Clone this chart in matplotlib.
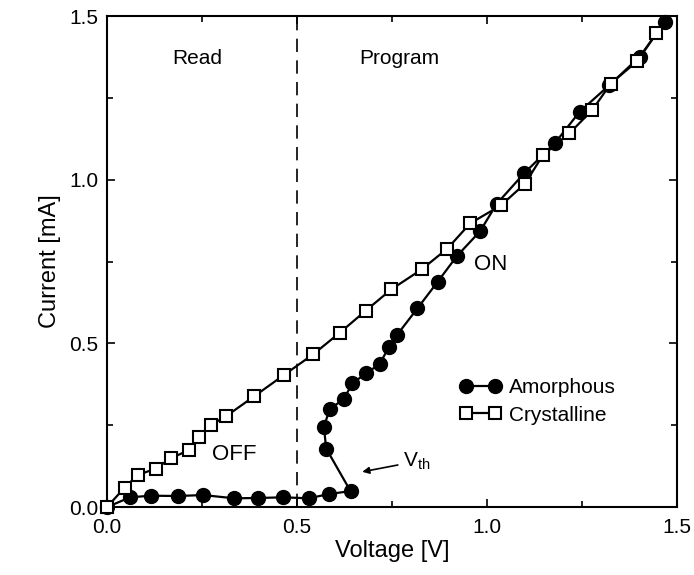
import matplotlib
matplotlib.use("Agg")
import matplotlib.pyplot as plt
from matplotlib.ticker import MultipleLocator

plt.rcParams['font.family'] = ['Liberation Sans', 'DejaVu Sans']
plt.rcParams['mathtext.default'] = 'regular'

# amorphous state (filled circles)
amor_v = [0.0, 0.061, 0.116, 0.187, 0.253, 0.335, 0.398, 0.464, 0.531, 0.584, 0.641,
          0.577, 0.571, 0.586, 0.623, 0.646, 0.683, 0.718, 0.742, 0.764, 0.817, 0.870,
          0.921, 0.982, 1.026, 1.098, 1.178, 1.244, 1.322, 1.402, 1.468]
amor_i = [0.0, 0.030, 0.035, 0.034, 0.037, 0.027, 0.028, 0.030, 0.027, 0.040, 0.049,
          0.179, 0.245, 0.299, 0.330, 0.378, 0.410, 0.437, 0.490, 0.527, 0.607, 0.688,
          0.767, 0.843, 0.927, 1.020, 1.111, 1.208, 1.289, 1.376, 1.483]

# crystalline state (open squares)
cryst_v = [0.0, 0.047, 0.081, 0.129, 0.168, 0.215, 0.243, 0.274, 0.314, 0.388, 0.465,
           0.543, 0.613, 0.681, 0.748, 0.828, 0.896, 0.956, 1.037, 1.100, 1.147, 1.217,
           1.277, 1.326, 1.396, 1.446]
cryst_i = [0.0, 0.060, 0.098, 0.118, 0.149, 0.174, 0.215, 0.251, 0.278, 0.339, 0.403,
           0.467, 0.533, 0.600, 0.665, 0.726, 0.790, 0.867, 0.922, 0.988, 1.075, 1.142,
           1.213, 1.294, 1.363, 1.447]

fig = plt.figure(figsize=(6.94, 5.75), dpi=100)
ax = fig.add_axes([0.154, 0.118, 0.8215, 0.854])

ax.plot(amor_v, amor_i, '-o', color='black', lw=1.6, ms=10,
        markerfacecolor='black', label='Amorphous', zorder=3, clip_on=False)
ax.plot(cryst_v, cryst_i, '-s', color='black', lw=1.6, ms=9, mew=1.5,
        markerfacecolor='white', label='Crystalline', zorder=4, clip_on=False)

ax.axvline(0.5, color='black', lw=1.2, ls=(0, (8, 5)), zorder=1)

ax.set_xlim(0, 1.5)
ax.set_ylim(0, 1.5)
ax.xaxis.set_major_locator(MultipleLocator(0.5))
ax.yaxis.set_major_locator(MultipleLocator(0.5))
ax.xaxis.set_minor_locator(MultipleLocator(0.25))
ax.yaxis.set_minor_locator(MultipleLocator(0.25))
ax.xaxis.set_major_formatter(plt.FormatStrFormatter('%.1f'))
ax.yaxis.set_major_formatter(plt.FormatStrFormatter('%.1f'))
ax.tick_params(which='both', direction='in', top=True, right=True, width=1.2)
ax.tick_params(which='major', length=6, labelsize=15)
ax.tick_params(which='minor', length=4)
ax.tick_params(axis='x', which='major', pad=8)
ax.tick_params(axis='y', which='major', pad=6)
for s in ax.spines.values():
    s.set_linewidth(1.5)

ax.set_xlabel('Voltage [V]', fontsize=17, labelpad=2)
ax.set_ylabel('Current [mA]', fontsize=17, labelpad=6)

ax.text(0.237, 1.37, 'Read', fontsize=15, ha='center', va='center')
ax.text(0.77, 1.37, 'Program', fontsize=15, ha='center', va='center')
ax.text(0.335, 0.162, 'OFF', fontsize=16, ha='center', va='center')
ax.text(1.01, 0.74, 'ON', fontsize=16, ha='center', va='center')
ax.annotate(r'$V_{th}$', xy=(0.672, 0.108), xytext=(0.78, 0.14),
            fontsize=15, ha='left', va='center',
            arrowprops=dict(arrowstyle='-|>', color='black', lw=1.2,
                            mutation_scale=10, shrinkA=2, shrinkB=0))

ax.legend(loc='center left', bbox_to_anchor=(0.6, 0.215), frameon=False,
          numpoints=2, handlelength=2.0, handletextpad=0.4, labelspacing=0.4,
          fontsize=15, borderpad=0)

fig.savefig('out.png', dpi=100)
